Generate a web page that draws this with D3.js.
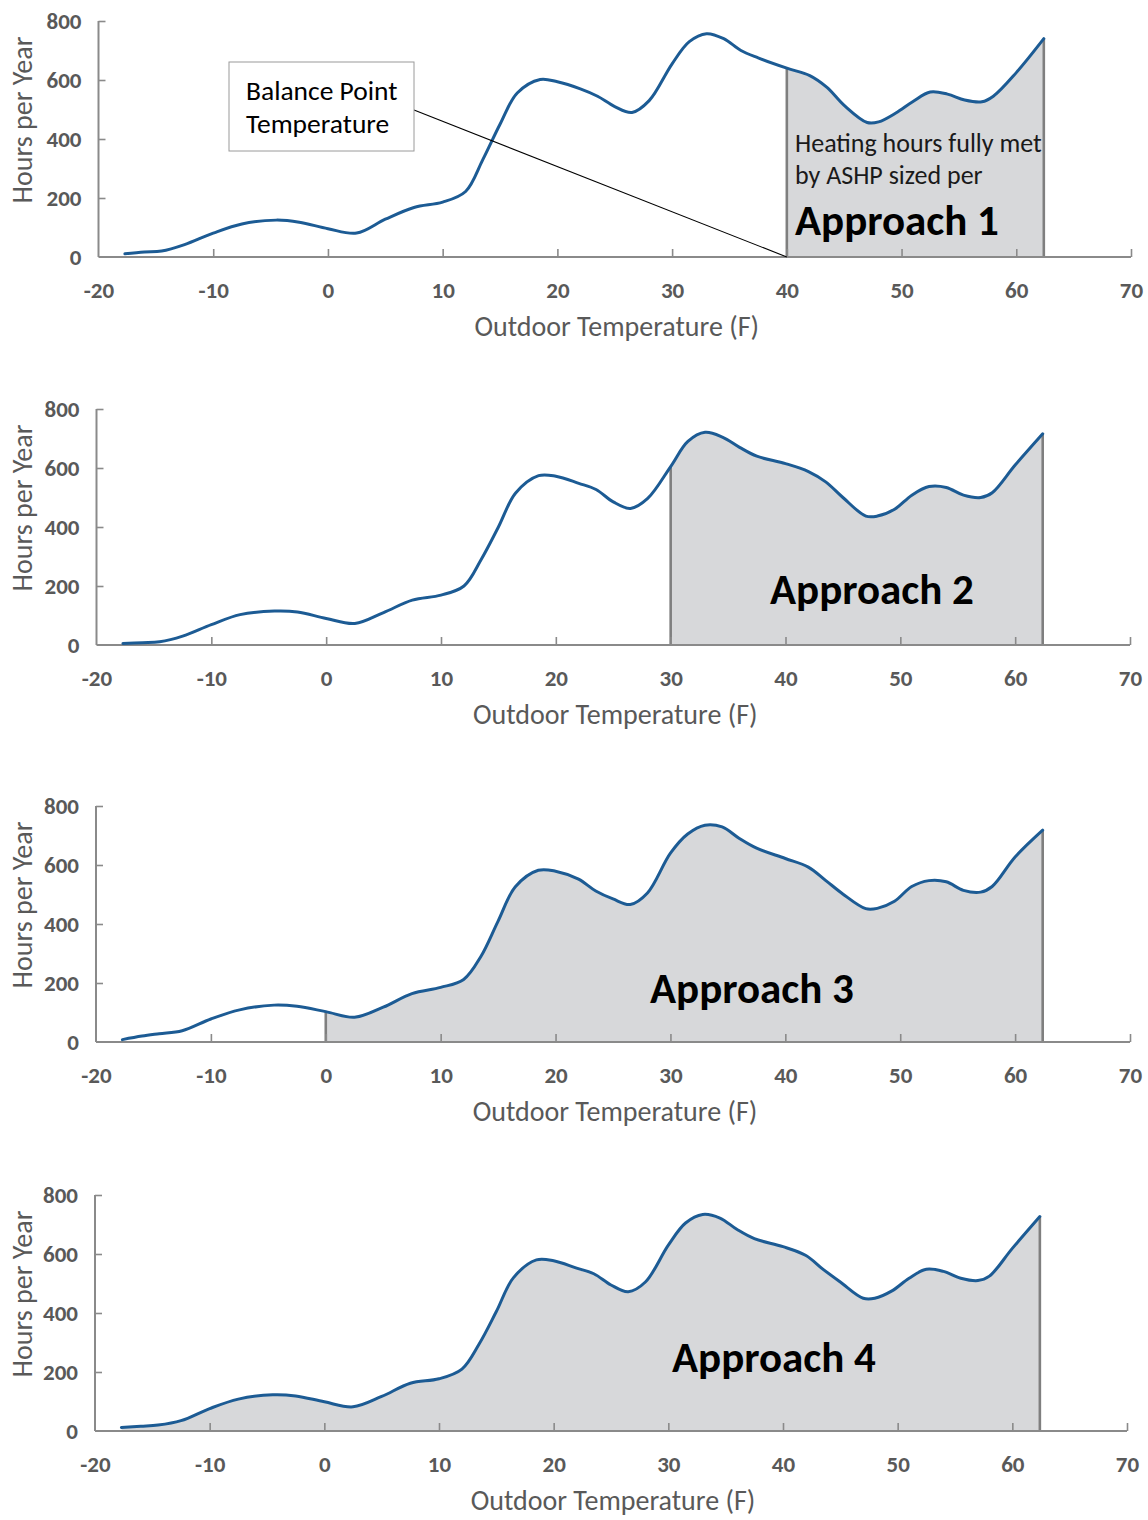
<!DOCTYPE html>
<html>
<head>
<meta charset="utf-8">
<script src="https://cdn.jsdelivr.net/npm/d3@7"></script>
<style>
  html, body { margin: 0; padding: 0; background: #ffffff; }
  svg { display: block; }
  text { font-family: Carlito, Calibri, Lato, "Open Sans", sans-serif; }
</style>
</head>
<body>
<svg id="chart" width="1148" height="1520"></svg>
<script>
// ---------------- DATA ----------------
const temps = [-17.7, -16, -14.5, -12.5, -10, -7.5, -4.5, -2.5, 0, 2.5, 5, 7.5, 10, 12, 13.5, 15, 16.5, 18.5, 20, 22, 23.5, 25, 26.5, 28, 30, 31.5, 33, 34.5, 36, 37.5, 40, 42, 43.5, 45, 47, 48, 49.5, 51, 52.5, 54, 55.5, 57, 58, 60, 62.4];

const hoursApproach1 = [11, 17, 20, 42, 81, 112, 125, 118, 96, 81, 128, 168, 186, 222, 330, 450, 556, 602, 594, 570, 545, 510, 490, 530, 655, 730, 757, 740, 700, 675, 640, 615, 575, 514, 456, 458, 488, 527, 559, 552, 532, 526, 545, 625, 740];
const hoursApproach2 = [5, 8, 11, 30, 69, 103, 115, 112, 90, 73, 110, 152, 169, 200, 290, 400, 515, 574, 572, 548, 527, 485, 463, 497, 605, 690, 721, 705, 670, 640, 615, 588, 553, 500, 437, 437, 460, 508, 537, 534, 508, 500, 516, 610, 716];
const hoursApproach3 = [8, 20, 28, 38, 78, 109, 125, 121, 103, 84, 118, 164, 185, 212, 290, 410, 526, 582, 579, 552, 512, 485, 466, 505, 640, 705, 735, 729, 690, 657, 622, 593, 548, 502, 452, 453, 477, 527, 547, 543, 514, 508, 527, 627, 718];
const hoursApproach4 = [12, 16, 20, 35, 76, 108, 123, 119, 99, 82, 117, 162, 177, 210, 295, 405, 520, 580, 577, 552, 533, 495, 472, 505, 630, 705, 734, 722, 683, 652, 625, 595, 548, 505, 450, 450, 475, 518, 548, 541, 518, 510, 525, 619, 727];

const seriesList = [hoursApproach1, hoursApproach2, hoursApproach3, hoursApproach4];
const fillFrom = [40, 30, 0, -17.7];      // start of shaded (fully met) range, F
const fillTo   = [62.4, 62.4, 62.4, 62.4]; // end of shaded range, F
const approachLabels = ["Approach 1", "Approach 2", "Approach 3", "Approach 4"];

const xTicks = [-20, -10, 0, 10, 20, 30, 40, 50, 60, 70];
const yTicks = [0, 200, 400, 600, 800];
const xDomain = [-20, 70];
const yDomain = [0, 800];
const xTitle = "Outdoor Temperature (F)";
const yTitle = "Hours per Year";
const calloutLines = ["Balance Point", "Temperature"];
const noteLines = ["Heating hours fully met", "by ASHP sized per"];

// ---------------- LAYOUT ----------------
const panels = [
  { x0: 98.5, x1: 1131, yTop: 21,   yBot: 257,  label: { x: 795, y: 235 } },
  { x0: 96.5, x1: 1130, yTop: 409,  yBot: 645,  label: { x: 770, y: 604 } },
  { x0: 96,   x1: 1130, yTop: 806,  yBot: 1042, label: { x: 650, y: 1003 } },
  { x0: 95,   x1: 1127, yTop: 1195, yBot: 1431, label: { x: 672, y: 1372 } }
];

const axisColor = "#8a8a8a";
const labelColor = "#595959";
const lineColor = "#1c5b94";
const fillColor = "#d7d8da";
const edgeColor = "#7f7f7f";

const svg = d3.select("#chart");

panels.forEach((p, i) => {
  const x = d3.scaleLinear().domain(xDomain).range([p.x0, p.x1]);
  const y = d3.scaleLinear().domain(yDomain).range([p.yBot, p.yTop]);
  const data = temps.map((t, k) => ({ t: t, v: seriesList[i][k] }));
  const g = svg.append("g");
  const curve = d3.curveCatmullRom.alpha(0.5);

  const clipId = "clip" + i;
  svg.append("clipPath").attr("id", clipId)
    .append("rect")
    .attr("x", x(fillFrom[i]))
    .attr("y", p.yTop - 40)
    .attr("width", x(fillTo[i]) - x(fillFrom[i]))
    .attr("height", p.yBot - p.yTop + 40);

  const area = d3.area().x(d => x(d.t)).y0(y(0)).y1(d => y(d.v)).curve(curve);
  g.append("path").datum(data)
    .attr("d", area)
    .attr("fill", fillColor)
    .attr("clip-path", "url(#" + clipId + ")");

  const line = d3.line().x(d => x(d.t)).y(d => y(d.v)).curve(curve);
  const linePath = g.append("path").datum(data)
    .attr("d", line)
    .attr("fill", "none")
    .attr("stroke", lineColor)
    .attr("stroke-width", 3)
    .attr("stroke-linejoin", "round")
    .attr("stroke-linecap", "round");

  function yAtX(px) {
    const node = linePath.node();
    let lo = 0, hi = node.getTotalLength();
    for (let it = 0; it < 40; it++) {
      const mid = (lo + hi) / 2;
      if (node.getPointAtLength(mid).x < px) lo = mid; else hi = mid;
    }
    return node.getPointAtLength((lo + hi) / 2).y;
  }

  [fillFrom[i], fillTo[i]].forEach((tv, j) => {
    if (i === 3 && j === 0) return;
    const px = x(tv);
    g.append("line")
      .attr("x1", px).attr("x2", px)
      .attr("y1", y(0)).attr("y2", yAtX(px))
      .attr("stroke", edgeColor)
      .attr("stroke-width", 2.6);
  });

  // axes
  const fmt = d => String(d);
  const xAxis = d3.axisBottom(x).tickValues(xTicks).tickSize(-8).tickPadding(0).tickFormat(fmt);
  const gx = g.append("g").attr("transform", `translate(0,${p.yBot})`).call(xAxis);
  gx.select(".domain").attr("stroke", axisColor).attr("stroke-width", 2).attr("d", `M${p.x0},0H${p.x1}`);
  gx.selectAll(".tick line").attr("stroke", axisColor).attr("stroke-width", 1.6);
  gx.selectAll(".tick").filter(d => d === -20).select("line").remove();
  gx.selectAll(".tick text")
    .attr("fill", labelColor).attr("font-size", 23).attr("font-weight", "bold")
    .attr("y", 41).attr("dy", null);

  const yAxis = d3.axisLeft(y).tickValues(yTicks).tickSize(-7).tickPadding(17).tickFormat(fmt);
  const gy = g.append("g").attr("transform", `translate(${p.x0},0)`).call(yAxis);
  gy.select(".domain").attr("stroke", axisColor).attr("stroke-width", 2).attr("d", `M0,${p.yTop}V${p.yBot}`);
  gy.selectAll(".tick line").attr("stroke", axisColor).attr("stroke-width", 1.6);
  gy.selectAll(".tick").filter(d => d === 0).select("line").remove();
  gy.selectAll(".tick text")
    .attr("fill", labelColor).attr("font-size", 23).attr("font-weight", "bold");

  // axis titles
  g.append("text")
    .attr("x", (p.x0 + p.x1) / 2 + 2)
    .attr("y", p.yBot + 79)
    .attr("text-anchor", "middle")
    .attr("fill", labelColor)
    .attr("font-size", 28)
    .text(xTitle);

  g.append("text")
    .attr("transform", `translate(32,${(p.yTop + p.yBot) / 2 - 19}) rotate(-90)`)
    .attr("text-anchor", "middle")
    .attr("fill", labelColor)
    .attr("font-size", 28)
    .text(yTitle);

  linePath.raise();

  g.append("text")
    .attr("x", p.label.x).attr("y", p.label.y)
    .attr("fill", "#000000")
    .attr("font-size", 43)
    .attr("font-weight", "bold")
    .text(approachLabels[i]);

  if (i === 0) {
    noteLines.forEach((s, k) => {
      g.append("text")
        .attr("x", 795).attr("y", 152 + k * 32)
        .attr("fill", "#1a1a1a")
        .attr("font-size", 26)
        .text(s);
    });
    g.append("line")
      .attr("x1", 414).attr("y1", 110)
      .attr("x2", x(fillFrom[0])).attr("y2", y(0))
      .attr("stroke", "#000").attr("stroke-width", 1.1);
    g.append("rect")
      .attr("x", 229).attr("y", 62).attr("width", 185).attr("height", 89)
      .attr("fill", "#ffffff").attr("stroke", "#9a9a9a").attr("stroke-width", 1);
    calloutLines.forEach((s, k) => {
      g.append("text")
        .attr("x", 246).attr("y", 100 + k * 33)
        .attr("fill", "#000000")
        .attr("font-size", 27.5)
        .text(s);
    });
  }
});
</script>
</body>
</html>
